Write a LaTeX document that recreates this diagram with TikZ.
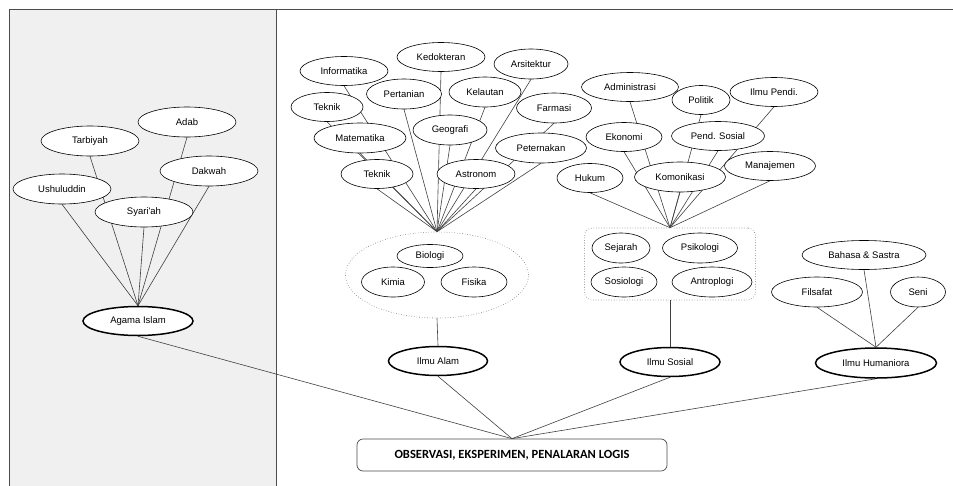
\documentclass[tikz,border=0pt]{standalone}
\usepackage{fontspec}
\setmainfont{Liberation Sans}
\newfontfamily\arialfont{Liberation Sans}
\newfontfamily\calibfont{Carlito}
\usetikzlibrary{shapes.geometric}
\pgfdeclarelayer{panel}
\pgfdeclarelayer{lines}
\pgfsetlayers{panel,lines,main}
\begin{document}
\begin{tikzpicture}[x=1pt,y=-1pt,
  leaf/.style={ellipse,draw=black,line width=0.6pt,fill=white,inner sep=0pt,
    font=\arialfont\fontsize{9.5}{11}\selectfont},
  major/.style={leaf,line width=1.5pt},
  sz/.style 2 args={minimum width=#1pt,minimum height=#2pt},
  conn/.style={draw=black!75,line width=0.6pt},
  dotbox/.style={draw=black!55,dotted,line width=0.6pt,inner sep=0pt},
  frameline/.style={draw=black!70,line width=0.9pt}]
\useasboundingbox (0,0) rectangle (953,485);

% ---------- Agama Islam ----------
\node[leaf,sz={98}{30}] (adab) at (187,122) {Adab};
\node[leaf,sz={98}{30}] (tarbiyah) at (90,141) {Tarbiyah};
\node[leaf,sz={98}{30}] (dakwah) at (209,171) {Dakwah};
\node[leaf,sz={98}{30}] (ushul) at (62,189) {Ushuluddin};
\node[leaf,sz={98}{30}] (syariah) at (144,212) {Syari'ah};
\node[major,sz={110}{29}] (agama) at (138,321) {Agama Islam};

% ---------- Ilmu Alam ----------
\node[leaf,sz={88}{29}] (kedokteran) at (441,57) {Kedokteran};
\node[leaf,sz={88}{29}] (informatika) at (344,71) {Informatika};
\node[leaf,sz={74}{30}] (arsitektur) at (531,64) {Arsitektur};
\node[leaf,sz={75}{30}] (pertanian) at (404,94) {Pertanian};
\node[leaf,sz={72}{30}] (kelautan) at (485,92) {Kelautan};
\node[leaf,sz={72}{29}] (teknika) at (327,107) {Teknik};
\node[leaf,sz={75}{30}] (farmasi) at (554,108) {Farmasi};
\node[leaf,sz={74}{30}] (geografi) at (450,130) {Geografi};
\node[leaf,sz={92}{30}] (matematika) at (360,138) {Matematika};
\node[leaf,sz={91}{30}] (peternakan) at (541,148) {Peternakan};
\node[leaf,sz={72}{29}] (teknikb) at (377,174) {Teknik};
\node[leaf,sz={78}{29}] (astronom) at (476,174) {Astronom};
\node[ellipse,dotbox,sz={183}{86}] (natbox) at (437,275) {};
\node[leaf,sz={66}{23}] (biologi) at (430,256) {Biologi};
\node[leaf,sz={63}{30}] (kimia) at (393,282) {Kimia};
\node[leaf,sz={66}{30}] (fisika) at (474,282) {Fisika};
\node[major,sz={99}{29}] (ilmualam) at (438,361) {Ilmu Alam};

% ---------- Ilmu Sosial ----------
\node[leaf,sz={97}{29}] (administrasi) at (630,87) {Administrasi};
\node[leaf,sz={58}{29}] (politik) at (701,100) {Politik};
\node[leaf,sz={88}{29}] (ilmupendi) at (774,92) {Ilmu Pendi.};
\node[leaf,sz={76}{29}] (ekonomi) at (624,137) {Ekonomi};
\node[leaf,sz={93}{29}] (pendsosial) at (718,136) {Pend. Sosial};
\node[leaf,sz={66}{29}] (hukum) at (590,178) {Hukum};
\node[leaf,sz={91}{30}] (komonikasi) at (680,177) {Komonikasi};
\node[leaf,sz={91}{29}] (manajemen) at (770,166) {Manajemen};
\node[rectangle,rounded corners=8pt,dotbox,sz={171}{72}] (socbox) at (670,264) {};
\node[leaf,sz={58}{30}] (sejarah) at (621,248) {Sejarah};
\node[leaf,sz={75}{30}] (psikologi) at (700,248) {Psikologi};
\node[leaf,sz={66}{30}] (sosiologi) at (624,282) {Sosiologi};
\node[leaf,sz={80}{30}] (antroplogi) at (712,282) {Antroplogi};
\node[major,sz={100}{29}] (ilmusosial) at (670,362) {Ilmu Sosial};

% ---------- Ilmu Humaniora ----------
\node[leaf,sz={124}{29}] (bahasa) at (864,255) {Bahasa \& Sastra};
\node[leaf,sz={91}{30}] (filsafat) at (817,292) {Filsafat};
\node[leaf,sz={55}{30}] (seni) at (918,292) {Seni};
\node[major,sz={121}{30}] (humaniora) at (876,363) {Ilmu Humaniora};

% ---------- base ----------
\node[rectangle,rounded corners=6pt,draw=black!70,line width=0.7pt,fill=white,
  sz={310}{32},font=\calibfont\bfseries\fontsize{12.5}{14}\selectfont] (obs) at (512,455)
  {OBSERVASI, EKSPERIMEN, PENALARAN LOGIS};

% ---------- panel and frame ----------
\begin{pgfonlayer}{panel}
  \fill[black!6] (9.5,9.5) rectangle (276,486);
  \draw[frameline] (9.5,486) -- (9.5,9.5) -- (953,9.5);
  \draw[frameline] (276,9.5) -- (276,486);
\end{pgfonlayer}

% ---------- connectors ----------
\begin{pgfonlayer}{lines}
  \foreach \n in {adab,tarbiyah,dakwah,ushul,syariah}
    \draw[conn] (\n.south) -- (agama.north);
  \foreach \n in {kedokteran,informatika,arsitektur,pertanian,kelautan,teknika,farmasi,
                  geografi,matematika,peternakan,teknikb,astronom}
    \draw[conn] (\n.south) -- (natbox.north);
  \foreach \n in {administrasi,politik,ilmupendi,ekonomi,pendsosial,hukum,komonikasi,manajemen}
    \draw[conn] (\n.south) -- (socbox.north);
  \foreach \n in {bahasa,filsafat,seni}
    \draw[conn] (\n.south) -- (humaniora.north);
  \draw[conn] (natbox.south) -- (ilmualam.north);
  \draw[conn] (socbox.south) -- (ilmusosial.north);
  \foreach \n in {agama,ilmualam,ilmusosial,humaniora}
    \draw[conn] (\n.south) -- (obs.north);
\end{pgfonlayer}
\end{tikzpicture}
\end{document}
